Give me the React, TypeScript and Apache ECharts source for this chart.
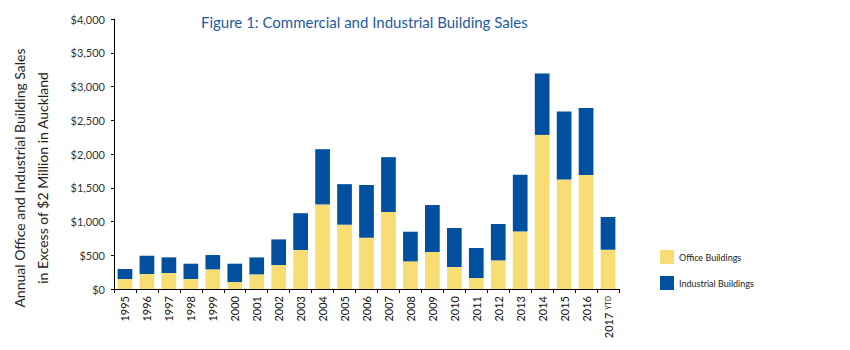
import React, { useEffect, useRef } from "react";
import * as echarts from "echarts";

const years = ["1995","1996","1997","1998","1999","2000","2001","2002","2003","2004","2005","2006","2007","2008","2009","2010","2011","2012","2013","2014","2015","2016","2017 YTD"];
const office = [150,222,237,148,291,103,217,355,578,1253,953,760,1141,409,548,326,163,424,853,2283,1624,1690,582];
const industrial = [146,271,232,227,212,272,251,380,545,818,600,781,812,440,696,578,444,539,840,910,1005,992,485];
const yTitle = ["Annual Office and Industrial Building Sales", "in Excess of $2 Million in Auckland"];

export default function App() {
  const ref = useRef<HTMLDivElement>(null);
  useEffect(() => {
    const chart = echarts.init(ref.current!, null, { renderer: "svg" });
    chart.setOption({
      animation: false,
      textStyle: { fontFamily: "Lato" },
      title: {
        text: "Figure 1: Commercial and Industrial Building Sales",
        left: 196,
        top: 9,
        textStyle: { color: "#1d5aa6", fontSize: 15, fontWeight: "normal", fontFamily: "Lato" },
      },
      graphic: [
        {
          type: "text",
          x: 19,
          y: 178,
          rotation: Math.PI / 2,
          style: { text: yTitle[0], fontSize: 14, fill: "#222", fontFamily: "Lato", align: "center", verticalAlign: "middle" },
        },
        {
          type: "text",
          x: 42,
          y: 178,
          rotation: Math.PI / 2,
          style: { text: yTitle[1], fontSize: 14, fill: "#222", fontFamily: "Lato", align: "center", verticalAlign: "middle" },
        },
      ],
      legend: {
        orient: "vertical",
        left: 655,
        top: 245,
        itemWidth: 14,
        itemHeight: 14,
        itemGap: 12,
        icon: "rect",
        textStyle: { fontSize: 9, color: "#222", fontFamily: "Lato" },
        data: ["Office Buildings", "Industrial Buildings"],
      },
      grid: { left: 114, right: 231, top: 19, bottom: 61, containLabel: false },
      xAxis: {
        type: "category",
        data: years,
        axisLine: { lineStyle: { color: "#000", width: 1 } },
        axisTick: { show: true, length: 4, lineStyle: { color: "#000" } },
        axisLabel: {
          rotate: 90,
          fontSize: 11,
          color: "#111",
          margin: 7,
          formatter: (v: string) => (v.indexOf(" ") > 0 ? v.split(" ")[0] + " {s|" + v.split(" ")[1] + "}" : v),
          rich: { s: { fontSize: 7, color: "#111" } },
        },
      },
      yAxis: {
        type: "value",
        min: 0,
        max: 4000,
        interval: 500,
        axisLine: { show: true, lineStyle: { color: "#000", width: 1 } },
        axisTick: { show: true, length: 3, lineStyle: { color: "#000" } },
        splitLine: { show: false },
        axisLabel: {
          fontSize: 11,
          color: "#333",
          margin: 9,
          formatter: (v: number) => "$" + v.toLocaleString("en-US"),
        },
      },
      series: [
        {
          name: "Office Buildings",
          type: "bar",
          stack: "total",
          data: office,
          barCategoryGap: "33%",
          itemStyle: { color: "#f8dc74" },
        },
        {
          name: "Industrial Buildings",
          type: "bar",
          stack: "total",
          data: industrial,
          barCategoryGap: "33%",
          itemStyle: { color: "#00509f" },
        },
      ],
    });
    return () => chart.dispose();
  }, []);
  return <div ref={ref} style={{ width: 850, height: 350, position: "absolute", left: 0, top: 0 }} />;
}
